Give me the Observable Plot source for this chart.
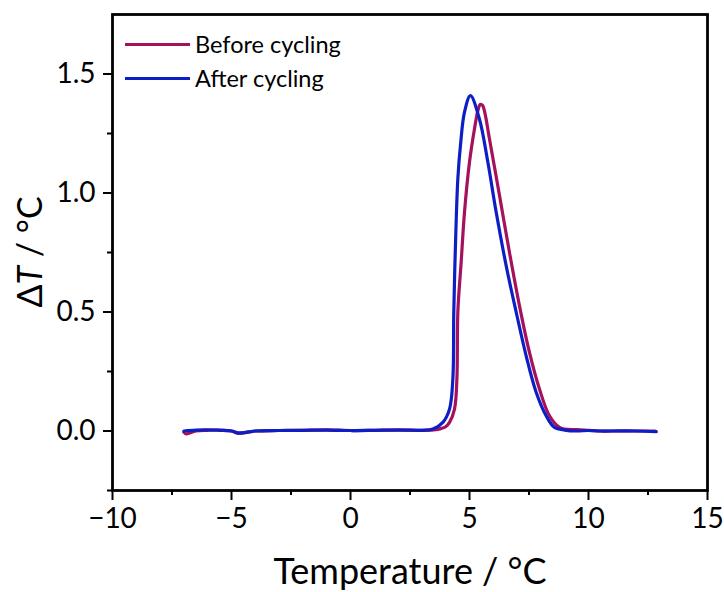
<!DOCTYPE html>
<html>
<head>
<meta charset="utf-8">
<script src="https://cdn.jsdelivr.net/npm/d3@7"></script>
<script src="https://cdn.jsdelivr.net/npm/@observablehq/plot@0.6"></script>
<style>
  html, body { margin: 0; padding: 0; background: #fff; }
  #wrap { position: relative; width: 724px; height: 592px; }
  .legend { position: absolute; left: 125px; font-family: Lato, "Open Sans", sans-serif; font-size: 23.5px; color: #000; display: flex; align-items: center; white-space: nowrap; }
  .legend .sw { display: inline-block; width: 65px; height: 0; border-top: 3px solid; margin-right: 5px; }
</style>
</head>
<body>
<div id="wrap"></div>
<script>
const seriesNames = ["Before cycling", "After cycling"];
const seriesColors = ["#a5115c", "#0d1fc4"];

const beforeTemp = [-7.0, -6.9, -6.5, -6.0, -5.5, -5.0, -4.7, -4.3, -4.0, -3.0, -2.0, -1.0, 0.0, 1.0, 2.0, 3.0, 3.5, 3.8, 4.0, 4.16, 4.37, 4.47, 4.51, 4.65, 4.79, 5.0, 5.21, 5.35, 5.45, 5.55, 5.65, 5.84, 6.26, 6.68, 7.10, 7.52, 7.94, 8.36, 8.78, 9.0, 9.5, 10.0, 10.5, 11.0, 12.0, 12.8];
const beforeDT = [-0.005, -0.012, 0.0, 0.003, 0.004, 0.0, -0.01, -0.005, 0.0, 0.002, 0.003, 0.005, 0.002, 0.003, 0.005, 0.003, 0.005, 0.01, 0.018, 0.036, 0.092, 0.218, 0.5, 0.71, 0.92, 1.13, 1.27, 1.345, 1.372, 1.368, 1.335, 1.227, 0.99, 0.75, 0.526, 0.33, 0.176, 0.064, 0.015, 0.008, 0.006, 0.003, 0.0, 0.0, 0.0, 0.0];

const afterTemp = [-7.0, -6.5, -6.0, -5.5, -5.0, -4.7, -4.3, -4.0, -3.0, -2.0, -1.0, 0.0, 1.0, 2.0, 3.0, 3.46, 3.88, 4.16, 4.30, 4.34, 4.41, 4.51, 4.62, 4.79, 5.04, 5.42, 5.77, 6.12, 6.54, 6.96, 7.38, 7.80, 8.22, 8.57, 9.0, 9.5, 10.0, 10.5, 11.0, 12.0, 12.85];
const afterDT = [0.0, 0.004, 0.005, 0.003, 0.0, -0.008, -0.004, 0.0, 0.002, 0.003, 0.004, 0.002, 0.003, 0.004, 0.003, 0.008, 0.036, 0.092, 0.218, 0.50, 0.78, 1.06, 1.20, 1.34, 1.409, 1.31, 1.13, 0.92, 0.695, 0.50, 0.316, 0.163, 0.064, 0.015, 0.004, 0.0, 0.002, 0.0, 0.0, 0.0, -0.003];

const xMajor = [-10, -5, 0, 5, 10, 15];
const xMinor = [-7.5, -2.5, 2.5, 7.5, 12.5];
const yMajor = [0.0, 0.5, 1.0, 1.5];
const yMinor = [-0.25, 0.25, 0.75, 1.25];

const before = beforeTemp.map((t, i) => ({t, dt: beforeDT[i]}));
const after = afterTemp.map((t, i) => ({t, dt: afterDT[i]}));

const font = "Lato, 'Open Sans', sans-serif";

const chart = Plot.plot({
  width: 724,
  height: 592,
  marginLeft: 112,
  marginRight: 17,
  marginTop: 14,
  marginBottom: 102,
  style: {fontFamily: font, fontSize: "28px", color: "#000", background: "#fff"},
  x: {domain: [-10, 15]},
  y: {domain: [-0.25, 1.75]},
  marks: [
    Plot.axisX(xMinor, {tickSize: 5, text: null, strokeWidth: 2, label: null}),
    Plot.axisX(xMajor, {tickSize: 10, strokeWidth: 2, tickPadding: 8, tickFormat: d => d < 0 ? "\u2212" + Math.abs(d) : String(d), label: null, fontSize: 28}),
    Plot.axisY(yMinor, {tickSize: 5, text: null, strokeWidth: 2, label: null}),
    Plot.axisY(yMajor, {tickSize: 9, strokeWidth: 2, tickPadding: 8, tickFormat: d => d.toFixed(1), label: null, fontSize: 28}),
    Plot.line(before, {x: "t", y: "dt", stroke: seriesColors[0], strokeWidth: 3.2, curve: "catmull-rom"}),
    Plot.line(after, {x: "t", y: "dt", stroke: seriesColors[1], strokeWidth: 3.2, curve: "catmull-rom"}),
    Plot.frame({stroke: "#000", strokeWidth: 2.8})
  ]
});

const wrap = document.getElementById("wrap");
wrap.appendChild(chart);

const svg = d3.select(chart);
// x axis title
svg.append("text")
  .attr("x", 410).attr("y", 584)
  .attr("text-anchor", "middle")
  .attr("font-family", font).attr("font-size", 36).attr("fill", "#000")
  .text("Temperature / \u00B0C");
// y axis title with italic T
const yl = svg.append("text")
  .attr("transform", "translate(42,252) rotate(-90)")
  .attr("text-anchor", "middle")
  .attr("font-family", font).attr("font-size", 34).attr("fill", "#000");
yl.append("tspan").text("\u0394");
yl.append("tspan").attr("font-style", "italic").text("T");
yl.append("tspan").text(" / \u00B0C");

// legend
const ys = [44, 78];
seriesNames.forEach((name, i) => {
  const d = document.createElement("div");
  d.className = "legend";
  d.style.top = (ys[i] - 15) + "px";
  d.style.height = "30px";
  const sw = document.createElement("span");
  sw.className = "sw";
  sw.style.borderTopColor = seriesColors[i];
  const tx = document.createElement("span");
  tx.textContent = name;
  d.appendChild(sw);
  d.appendChild(tx);
  wrap.appendChild(d);
});
</script>
</body>
</html>
